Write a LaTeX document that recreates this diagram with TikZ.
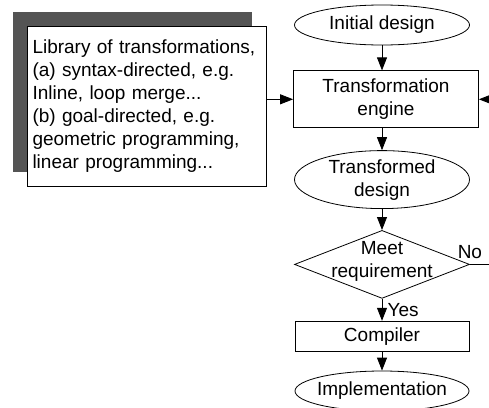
\documentclass[tikz,border=0pt]{standalone}
\usepackage{fontspec}
\setmainfont{Liberation Sans}
\usetikzlibrary{positioning,arrows.meta,shapes.geometric,shadows}

\begin{document}
\begin{tikzpicture}[
    node distance=21pt,
    every node/.style={font=\fontsize{19}{23}\selectfont},
    term/.style={draw, ellipse, minimum width=175pt, inner sep=0pt, line width=0.8pt},
    box/.style={draw, rectangle, align=center, inner sep=2pt, line width=0.8pt},
    dec/.style={draw, diamond, minimum width=175pt, minimum height=68pt, inner sep=0pt, line width=0.8pt},
    arr/.style={-{Triangle[length=13pt,width=10pt]}, line width=0.8pt}]
  \useasboundingbox (0,0) rectangle (489pt,-407pt);
  \node[term, minimum height=40pt, label=center:Initial design] (init) at (382pt,-25pt) {};
  \node[box, below=25pt of init, xshift=4pt, minimum width=185pt, minimum height=57pt] (eng) {Transformation\\engine};
  \node[term, below=22pt of eng, xshift=-4pt, minimum height=58pt, label={[align=center]center:Transformed\\design}] (trans) {};
  \node[dec, below=21pt of trans, label={[align=center, yshift=3pt]center:Meet\\requirement}] (test) {};
  \node[box, below=22pt of test, minimum width=174pt, minimum height=30pt] (comp) {Compiler};
  \node[term, below=19pt of comp, minimum width=174pt, minimum height=40pt, label=center:Implementation] (impl) {};
  \node[box, align=left, fill=white, text width=228pt, inner xsep=5.5pt, minimum height=160pt,
    general shadow={fill=black!67, shadow xshift=-14.5pt, shadow yshift=14pt}] (lib) at (146.5pt,-106pt)
    {\hyphenpenalty=10000 Library of transformations,\\(a) syntax-directed, e.g.\\Inline, loop merge...\\(b) goal-directed, e.g.\\geometric programming,\\linear programming...};
  \node[above=2pt of test.east] (no) {No};
  \coordinate (back) at (489pt,0 |- eng.east);
  \coordinate (noend) at (489pt,0 |- test.east);
  \draw[arr] (init) -- (init |- eng.north);
  \draw[arr] (init |- eng.south) -- (trans);
  \draw[arr] (trans) -- (test);
  \draw[arr] (test) -- node[right=2pt] (yes) {Yes} (comp);
  \draw[arr] (comp) -- (impl);
  \draw[arr] (lib.east |- eng.west) -- (eng.west);
  \draw[arr] (back) -- (eng.east);
  \draw[line width=0.8pt] (test.east) -- (noend);
\end{tikzpicture}
\end{document}
